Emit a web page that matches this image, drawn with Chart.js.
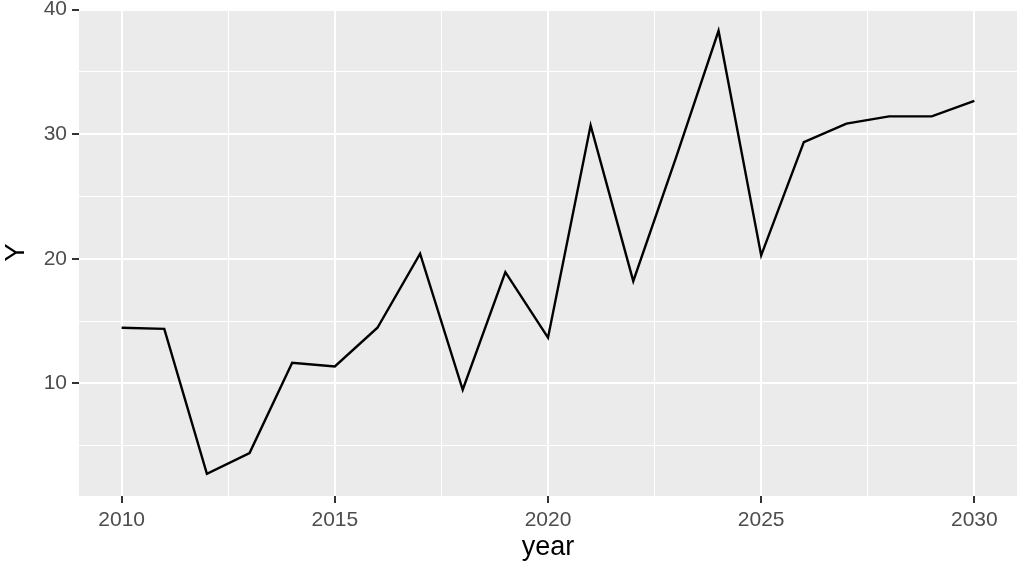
<!DOCTYPE html>
<html>
<head>
<meta charset="utf-8">
<script src="https://cdn.jsdelivr.net/npm/chart.js@4"></script>
<style>
  html, body { margin: 0; padding: 0; background: #ffffff; }
  #wrap { width: 1024px; height: 564px; }
</style>
</head>
<body>
<div id="wrap"><canvas id="lineChart" width="1024" height="564"></canvas></div>
<script>
const years = [2010, 2011, 2012, 2013, 2014, 2015, 2016, 2017, 2018, 2019, 2020,
               2021, 2022, 2023, 2024, 2025, 2026, 2027, 2028, 2029, 2030];
const values = [14.46, 14.37, 2.73, 4.4, 11.64, 11.35, 14.46, 20.41, 9.48, 18.92, 13.66,
                30.71, 18.2, 28.1, 38.3, 20.27, 29.36, 30.85, 31.43, 31.43, 32.67];
// major ticks carry labels, the halfway ones are minor grid lines only
const xTicks = [2010, 2012.5, 2015, 2017.5, 2020, 2022.5, 2025, 2027.5, 2030];
const xLabels = [2010, 2015, 2020, 2025, 2030];
const yTicks = [5, 10, 15, 20, 25, 30, 35, 40];
const yLabels = [10, 20, 30, 40];

const font = '"Liberation Sans", Arial, Helvetica, sans-serif';

// grey panel behind the grid, ggplot style
const panelBg = {
  id: 'panelBg',
  beforeDraw(chart) {
    const { ctx, chartArea: a } = chart;
    ctx.save();
    ctx.fillStyle = '#EBEBEB';
    ctx.fillRect(a.left, a.top, a.right - a.left, a.bottom - a.top);
    ctx.restore();
  }
};

const isMajor = (list, v) => list.includes(v);

new Chart(document.getElementById('lineChart'), {
  type: 'line',
  data: {
    datasets: [{
      data: years.map((yr, i) => ({ x: yr, y: values[i] })),
      borderColor: '#000000',
      borderWidth: 2.4,
      pointRadius: 0,
      fill: false,
      tension: 0
    }]
  },
  options: {
    responsive: false,
    devicePixelRatio: 1,
    animation: false,
    layout: { padding: { top: 9, right: 7, left: 0, bottom: 0 } },
    plugins: { legend: { display: false }, tooltip: { enabled: false } },
    scales: {
      x: {
        type: 'linear',
        min: 2009,
        max: 2031,
        afterBuildTicks: s => { s.ticks = xTicks.map(v => ({ value: v })); },
        afterFit: s => { s.height = 68; s.paddingLeft = 0; s.paddingRight = 0; },
        border: { display: false },
        grid: {
          color: '#FFFFFF',
          lineWidth: c => isMajor(xLabels, c.tick.value) ? 2 : 1,
          tickColor: c => isMajor(xLabels, c.tick.value) ? '#333333' : 'rgba(0,0,0,0)',
          tickWidth: 2,
          tickLength: 7
        },
        ticks: {
          autoSkip: false,
          maxRotation: 0,
          padding: 5,
          color: '#4D4D4D',
          font: { family: font, size: 21 },
          callback: v => isMajor(xLabels, v) ? String(v) : ''
        },
        title: {
          display: true,
          text: 'year',
          color: '#000000',
          padding: 0,
          font: { family: font, size: 27 }
        }
      },
      y: {
        type: 'linear',
        min: 0.95,
        max: 40.05,
        afterBuildTicks: s => { s.ticks = yTicks.map(v => ({ value: v })); },
        afterFit: s => { s.width = 79; s.paddingTop = 0; s.paddingBottom = 0; },
        border: { display: false },
        grid: {
          color: '#FFFFFF',
          lineWidth: c => isMajor(yLabels, c.tick.value) ? 2 : 1,
          tickColor: c => isMajor(yLabels, c.tick.value) ? '#333333' : 'rgba(0,0,0,0)',
          tickWidth: 2,
          tickLength: 7
        },
        ticks: {
          autoSkip: false,
          padding: 5,
          color: '#4D4D4D',
          font: { family: font, size: 21 },
          callback: v => isMajor(yLabels, v) ? String(v) : ''
        },
        title: {
          display: true,
          text: 'Y',
          color: '#000000',
          padding: 0,
          font: { family: font, size: 27 }
        }
      }
    }
  },
  plugins: [panelBg]
});
</script>
</body>
</html>
